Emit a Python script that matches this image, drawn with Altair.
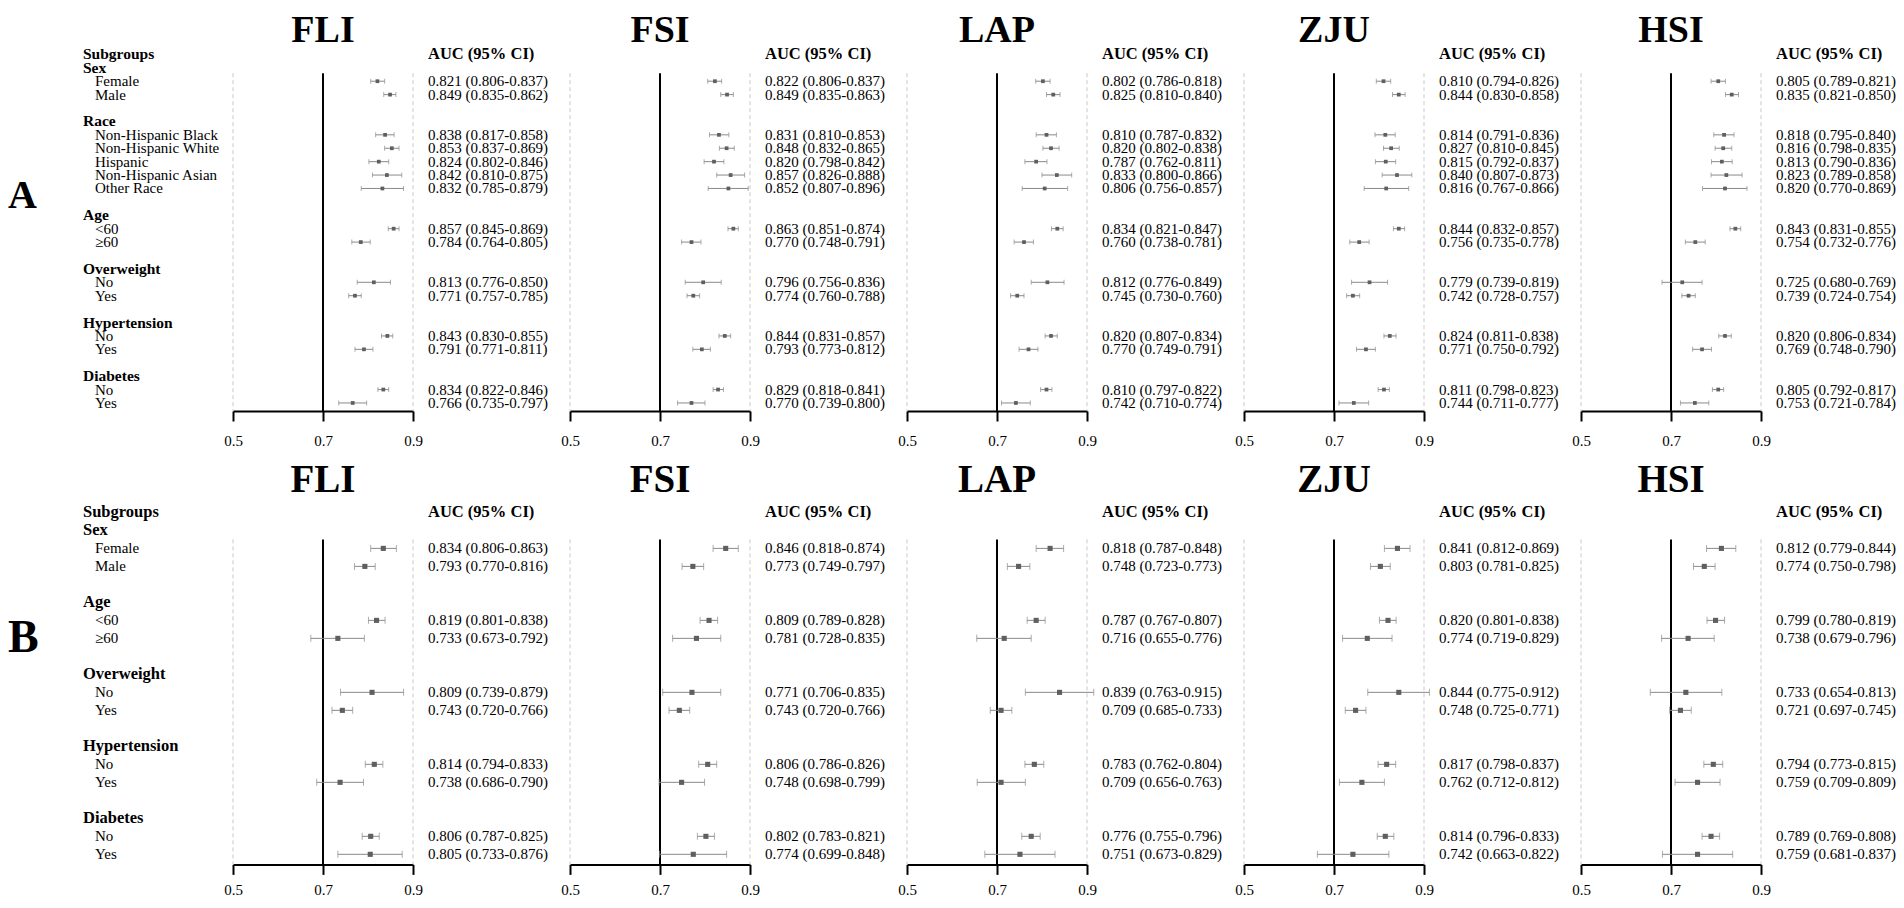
import altair as alt
import pandas as pd

SERIF = "Liberation Serif"

indices = ["FLI", "FSI", "LAP", "ZJU", "HSI"]

cats_A = ["Sex", "Race", "Age", "Overweight", "Hypertension", "Diabetes"]
cats_B = ["Sex", "Age", "Overweight", "Hypertension", "Diabetes"]
subitems = {
    "Sex": ["Female", "Male"],
    "Race": ["Non-Hispanic Black", "Non-Hispanic White", "Hispanic",
             "Non-Hispanic Asian", "Other Race"],
    "Age": ["<60", "≥60"],
    "Overweight": ["No", "Yes"],
    "Hypertension": ["No", "Yes"],
    "Diabetes": ["No", "Yes"],
}

# ---- Panel A ----
auc_A = {
    "FLI": [0.821, 0.849, 0.838, 0.853, 0.824, 0.842, 0.832, 0.857, 0.784, 0.813, 0.771, 0.843, 0.791, 0.834, 0.766],
    "FSI": [0.822, 0.849, 0.831, 0.848, 0.820, 0.857, 0.852, 0.863, 0.770, 0.796, 0.774, 0.844, 0.793, 0.829, 0.770],
    "LAP": [0.802, 0.825, 0.810, 0.820, 0.787, 0.833, 0.806, 0.834, 0.760, 0.812, 0.745, 0.820, 0.770, 0.810, 0.742],
    "ZJU": [0.810, 0.844, 0.814, 0.827, 0.815, 0.840, 0.816, 0.844, 0.756, 0.779, 0.742, 0.824, 0.771, 0.811, 0.744],
    "HSI": [0.805, 0.835, 0.818, 0.816, 0.813, 0.823, 0.820, 0.843, 0.754, 0.725, 0.739, 0.820, 0.769, 0.805, 0.753],
}
lo_A = {
    "FLI": [0.806, 0.835, 0.817, 0.837, 0.802, 0.810, 0.785, 0.845, 0.764, 0.776, 0.757, 0.830, 0.771, 0.822, 0.735],
    "FSI": [0.806, 0.835, 0.810, 0.832, 0.798, 0.826, 0.807, 0.851, 0.748, 0.756, 0.760, 0.831, 0.773, 0.818, 0.739],
    "LAP": [0.786, 0.810, 0.787, 0.802, 0.762, 0.800, 0.756, 0.821, 0.738, 0.776, 0.730, 0.807, 0.749, 0.797, 0.710],
    "ZJU": [0.794, 0.830, 0.791, 0.810, 0.792, 0.807, 0.767, 0.832, 0.735, 0.739, 0.728, 0.811, 0.750, 0.798, 0.711],
    "HSI": [0.789, 0.821, 0.795, 0.798, 0.790, 0.789, 0.770, 0.831, 0.732, 0.680, 0.724, 0.806, 0.748, 0.792, 0.721],
}
hi_A = {
    "FLI": [0.837, 0.862, 0.858, 0.869, 0.846, 0.875, 0.879, 0.869, 0.805, 0.850, 0.785, 0.855, 0.811, 0.846, 0.797],
    "FSI": [0.837, 0.863, 0.853, 0.865, 0.842, 0.888, 0.896, 0.874, 0.791, 0.836, 0.788, 0.857, 0.812, 0.841, 0.800],
    "LAP": [0.818, 0.840, 0.832, 0.838, 0.811, 0.866, 0.857, 0.847, 0.781, 0.849, 0.760, 0.834, 0.791, 0.822, 0.774],
    "ZJU": [0.826, 0.858, 0.836, 0.845, 0.837, 0.873, 0.866, 0.857, 0.778, 0.819, 0.757, 0.838, 0.792, 0.823, 0.777],
    "HSI": [0.821, 0.850, 0.840, 0.835, 0.836, 0.858, 0.869, 0.855, 0.776, 0.769, 0.754, 0.834, 0.790, 0.817, 0.784],
}

# ---- Panel B ----
auc_B = {
    "FLI": [0.834, 0.793, 0.819, 0.733, 0.809, 0.743, 0.814, 0.738, 0.806, 0.805],
    "FSI": [0.846, 0.773, 0.809, 0.781, 0.771, 0.743, 0.806, 0.748, 0.802, 0.774],
    "LAP": [0.818, 0.748, 0.787, 0.716, 0.839, 0.709, 0.783, 0.709, 0.776, 0.751],
    "ZJU": [0.841, 0.803, 0.820, 0.774, 0.844, 0.748, 0.817, 0.762, 0.814, 0.742],
    "HSI": [0.812, 0.774, 0.799, 0.738, 0.733, 0.721, 0.794, 0.759, 0.789, 0.759],
}
lo_B = {
    "FLI": [0.806, 0.770, 0.801, 0.673, 0.739, 0.720, 0.794, 0.686, 0.787, 0.733],
    "FSI": [0.818, 0.749, 0.789, 0.728, 0.706, 0.720, 0.786, 0.698, 0.783, 0.699],
    "LAP": [0.787, 0.723, 0.767, 0.655, 0.763, 0.685, 0.762, 0.656, 0.755, 0.673],
    "ZJU": [0.812, 0.781, 0.801, 0.719, 0.775, 0.725, 0.798, 0.712, 0.796, 0.663],
    "HSI": [0.779, 0.750, 0.780, 0.679, 0.654, 0.697, 0.773, 0.709, 0.769, 0.681],
}
hi_B = {
    "FLI": [0.863, 0.816, 0.838, 0.792, 0.879, 0.766, 0.833, 0.790, 0.825, 0.876],
    "FSI": [0.874, 0.797, 0.828, 0.835, 0.835, 0.766, 0.826, 0.799, 0.821, 0.848],
    "LAP": [0.848, 0.773, 0.807, 0.776, 0.915, 0.733, 0.804, 0.763, 0.796, 0.829],
    "ZJU": [0.869, 0.825, 0.838, 0.829, 0.912, 0.771, 0.837, 0.812, 0.833, 0.822],
    "HSI": [0.844, 0.798, 0.819, 0.796, 0.813, 0.745, 0.815, 0.809, 0.808, 0.837],
}

AUC = {"A": auc_A, "B": auc_B}
LO = {"A": lo_A, "B": lo_B}
HI = {"A": hi_A, "B": hi_B}
CATS = {"A": cats_A, "B": cats_B}

# geometry / style per row of panels
GEO = {
    "A": dict(ymax=26.6, title_y=1.4, title_size=38, lp=12, cap=5, sq=14, start=1.4,
              letter_y=167.4, letter_size=40, bold_lab=15.5),
    "B": dict(ymax=19.56, title_y=-2, title_size=39, lp=8, cap=7, sq=26, start=1.5,
              letter_y=158, letter_size=46, bold_lab=16.5),
}

PT_COLOR = "#5f5f5f"
CI_COLOR = "#8a8a8a"
AUC_X = 195
BOLD_SIZE = 16.5
REG_SIZE = 15


def layout_rows(cats):
    rows = [("Subgroups", 0, "head")]
    items = []
    k = 1
    for c in cats:
        rows.append((c, k, "cat"))
        k += 1
        for it in subitems[c]:
            rows.append((it, k, "item"))
            items.append(k)
            k += 1
        k += 1
    return rows, items


def panel(group, name, first):
    g = GEO[group]
    rows, item_k = layout_rows(CATS[group])
    df = pd.DataFrame({"k": item_k, "auc": AUC[group][name],
                       "lo": LO[group][name], "hi": HI[group][name]})
    df["txt"] = [f"{a:.3f} ({l:.3f}-{h:.3f})" for a, l, h in zip(df.auc, df.lo, df.hi)]

    xs = alt.Scale(domain=[0.5, 0.9], nice=False, zero=False)
    ys = alt.Scale(domain=[-1, g["ymax"]], reverse=True, nice=False, zero=False)
    xaxis = alt.Axis(values=[0.5, 0.7, 0.9], format=".1f", title=None, grid=False,
                     domainColor="black", domainWidth=2, tickColor="black",
                     tickWidth=2, tickSize=10, labelFont=SERIF, labelFontSize=REG_SIZE,
                     labelColor="black", labelPadding=g["lp"], labelFlush=False,
                     labelOverlap=False)

    ref_d = pd.DataFrame({"v": [0.5, 0.9]})
    ref_s = pd.DataFrame({"v": [0.7]})
    dashed = alt.Chart(ref_d).mark_rule(color="#c9c9c9", strokeDash=[4, 3], strokeWidth=1).encode(
        x=alt.X("v:Q", scale=xs, axis=xaxis),
        y=alt.Y(datum=g["start"], scale=ys, axis=None),
        y2=alt.datum(g["ymax"]))
    solid = alt.Chart(ref_s).mark_rule(color="black", strokeWidth=2).encode(
        x=alt.X("v:Q"), y=alt.datum(g["start"]), y2=alt.datum(g["ymax"]))

    base = alt.Chart(df)
    ci = base.mark_rule(color=CI_COLOR, strokeWidth=1).encode(
        x=alt.X("lo:Q"), x2="hi:Q", y=alt.Y("k:Q"))
    cap_lo = base.mark_tick(orient="vertical", size=g["cap"], thickness=1, color=CI_COLOR).encode(
        x="lo:Q", y="k:Q")
    cap_hi = base.mark_tick(orient="vertical", size=g["cap"], thickness=1, color=CI_COLOR).encode(
        x="hi:Q", y="k:Q")
    pt = base.mark_square(size=g["sq"], color=PT_COLOR, opacity=1).encode(x="auc:Q", y="k:Q")
    txt = base.mark_text(align="left", baseline="middle", font=SERIF, fontSize=REG_SIZE,
                         color="black").encode(x=alt.value(AUC_X), y="k:Q", text="txt:N")
    head = alt.Chart(pd.DataFrame({"t": ["AUC (95% CI)"], "k": [0]})).mark_text(
        align="left", baseline="middle", font=SERIF, fontSize=BOLD_SIZE, fontWeight="bold",
        color="black").encode(x=alt.value(AUC_X), y="k:Q", text="t:N")
    title = alt.Chart(pd.DataFrame({"t": [name]})).mark_text(
        align="center", baseline="alphabetic", font=SERIF, fontSize=g["title_size"],
        fontWeight="bold", color="black").encode(
        x=alt.datum(0.7), y=alt.value(g["title_y"]), text="t:N")

    layers = [dashed, solid, ci, cap_lo, cap_hi, pt, txt, head, title]

    if first:
        lab = pd.DataFrame(rows, columns=["t", "k", "kind"])
        bold = alt.Chart(lab[lab.kind != "item"]).mark_text(
            align="left", baseline="middle", font=SERIF, fontSize=g["bold_lab"],
            fontWeight="bold", color="black").encode(
            x=alt.value(-150), y="k:Q", text="t:N")
        reg = alt.Chart(lab[lab.kind == "item"]).mark_text(
            align="left", baseline="middle", font=SERIF, fontSize=REG_SIZE,
            color="black").encode(x=alt.value(-138), y="k:Q", text="t:N")
        letter = alt.Chart(pd.DataFrame({"t": [group]})).mark_text(
            align="left", baseline="alphabetic", font=SERIF, fontSize=g["letter_size"],
            fontWeight="bold", color="black").encode(
            x=alt.value(-225), y=alt.value(g["letter_y"]), text="t:N")
        layers += [bold, reg, letter]

    return alt.layer(*layers).properties(
        width=180, height=370,
        view=alt.ViewBackground(stroke="transparent", strokeWidth=0),
    )


panels = [panel(grp, nm, i == 0) for grp in ["A", "B"] for i, nm in enumerate(indices)]

chart = alt.concat(
    *panels, columns=5, bounds="flush",
    spacing=alt.RowColnumber(row=83.4, column=157),
).properties(
    padding={"top": 4, "left": 0, "right": 0, "bottom": 0},
    background="white",
).configure_view(stroke="transparent", strokeWidth=0)

chart.save("out.html", embed_options={"renderer": "svg", "actions": False})
